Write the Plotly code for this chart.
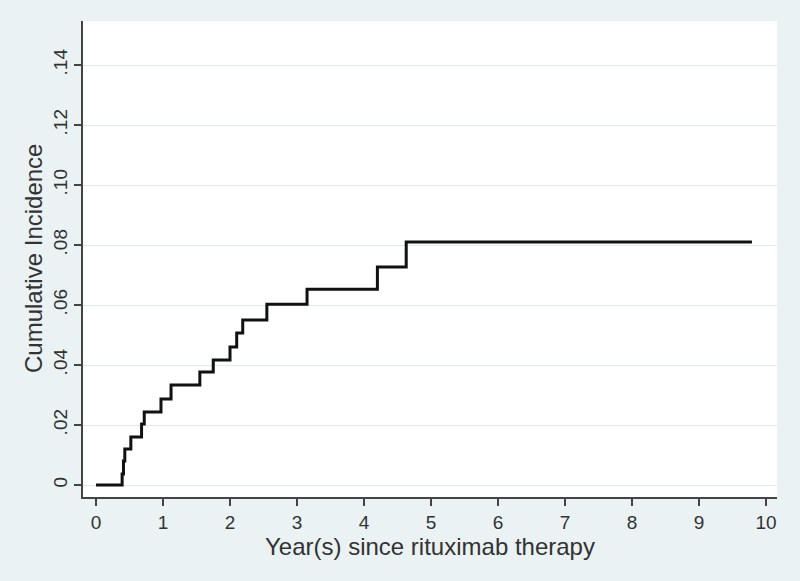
import plotly.graph_objects as go

# Step times (years since rituximab therapy) and cumulative incidence
years = [0, 0.39, 0.41, 0.43, 0.52, 0.68, 0.72, 0.97, 1.12, 1.55, 1.75, 2.0, 2.1, 2.19, 2.55, 3.15, 4.2, 4.63, 9.79]
cum_incidence = [0, 0.0037, 0.008, 0.012, 0.016, 0.0203, 0.0243, 0.0287, 0.0333, 0.0377, 0.0417, 0.046,
                 0.0507, 0.055, 0.0603, 0.0653, 0.0727, 0.081, 0.081]

x_ticks = list(range(0, 11))
y_ticks = [0, 0.02, 0.04, 0.06, 0.08, 0.10, 0.12, 0.14]
y_tick_labels = ["0", ".02", ".04", ".06", ".08", ".10", ".12", ".14"]

BG = "#EAF2F3"
FONT = "Liberation Sans, Arial, sans-serif"

fig = go.Figure()
fig.add_trace(go.Scatter(
    x=years, y=cum_incidence, mode="lines", line_shape="hv",
    line=dict(color="#111111", width=3), showlegend=False,
))

fig.update_layout(
    width=800, height=581,
    paper_bgcolor=BG, plot_bgcolor="#FFFFFF",
    margin=dict(l=83, r=23, t=21, b=84),
    font=dict(family=FONT, color="#333333", size=19),
    xaxis=dict(
        range=[-0.194, 10.164], tickvals=x_ticks, ticks="outside", ticklen=7,
        tickcolor="#444444", tickwidth=1.5, showgrid=False, zeroline=False,
        showline=True, linecolor="#444444", linewidth=1.5,
        title=dict(text="Year(s) since rituximab therapy", font=dict(size=24), standoff=2),
        tickfont=dict(size=19),
    ),
    yaxis=dict(
        range=[-0.004, 0.1547], tickvals=y_ticks, ticktext=y_tick_labels, tickangle=-90,
        ticks="outside", ticklen=7, tickcolor="#444444", tickwidth=1.5,
        showgrid=True, gridcolor="#DDEBEE", gridwidth=1, zeroline=False,
        showline=True, linecolor="#444444", linewidth=1.5,
        tickfont=dict(size=19), ticklabelstandoff=0,
    ),
    annotations=[dict(
        text="Cumulative Incidence", textangle=-90, font=dict(size=24, color="#333333"),
        xref="paper", yref="paper", x=0, y=0.5, xanchor="center", yanchor="middle",
        xshift=-50, showarrow=False,
    )],
)

fig.write_html(
    "out.html",
    config={"displayModeBar": False},
    post_script="document.body.style.margin='0';document.body.style.background='#EAF2F3';",
)
